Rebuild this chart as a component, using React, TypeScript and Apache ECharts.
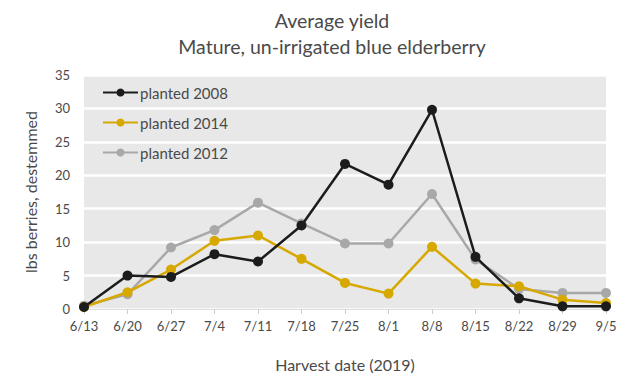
import React, { useEffect, useRef } from "react";
import * as echarts from "echarts";

const dates = ["6/13", "6/20", "6/27", "7/4", "7/11", "7/18", "7/25", "8/1", "8/8", "8/15", "8/22", "8/29", "9/5"];
const planted2008 = [0.3, 5.0, 4.8, 8.2, 7.1, 12.5, 21.7, 18.6, 29.8, 7.8, 1.6, 0.4, 0.4];
const planted2014 = [0.3, 2.5, 5.9, 10.2, 11.0, 7.5, 3.9, 2.3, 9.3, 3.8, 3.4, 1.4, 0.9];
const planted2012 = [0.5, 2.2, 9.2, 11.8, 15.9, 12.8, 9.8, 9.8, 17.2, 7.4, 3.0, 2.4, 2.4];
const yTicks = { min: 0, max: 35, interval: 5 };

const FONT = "Lato";
const TXT = "#4a4a4a";

export default function App() {
  const ref = useRef<HTMLDivElement>(null);
  useEffect(() => {
    if (!ref.current) return;
    const chart = echarts.init(ref.current, null, { renderer: "svg" });
    const mk = (name: string, data: number[], color: string, z: number) => ({
      name,
      type: "line",
      data,
      z,
      symbol: "circle",
      symbolSize: 10,
      lineStyle: { color, width: 2.5 },
      itemStyle: { color },
      color,
    });
    chart.setOption({
      animation: false,
      textStyle: { fontFamily: FONT },
      title: {
        text: "Average yield\nMature, un-irrigated blue elderberry",
        left: 327,
        top: 2,
        textAlign: "center",
        textStyle: { fontFamily: FONT, fontSize: 19.5, fontWeight: "normal", color: TXT, lineHeight: 26 },
      },
      legend: {
        orient: "vertical",
        left: 97,
        top: 80,
        itemGap: 15,
        itemWidth: 35,
        itemHeight: 10,
        textStyle: { fontFamily: FONT, fontSize: 15, color: TXT, padding: [0, 0, 0, -3] },
        data: ["planted 2008", "planted 2014", "planted 2012"],
      },
      grid: {
        left: 84,
        right: 34,
        top: 75,
        bottom: 83,
        show: true,
        backgroundColor: "#e8e8e8",
        borderWidth: 0,
      },
      xAxis: {
        type: "category",
        data: dates,
        boundaryGap: false,
        name: "Harvest date (2019)",
        nameLocation: "middle",
        nameGap: 47,
        nameTextStyle: { fontFamily: FONT, fontSize: 16, color: TXT },
        axisLine: { lineStyle: { color: "#dcdcdc", width: 1 } },
        axisTick: { show: true, length: 5, lineStyle: { color: "#cccccc" } },
        axisLabel: { fontFamily: FONT, fontSize: 13, color: TXT, margin: 10 },
      },
      yAxis: {
        type: "value",
        min: yTicks.min,
        max: yTicks.max,
        interval: yTicks.interval,
        name: "lbs berries, destemmed",
        nameLocation: "middle",
        nameGap: 46,
        nameTextStyle: { fontFamily: FONT, fontSize: 16, color: TXT },
        axisLine: { show: false },
        axisTick: { show: false },
        axisLabel: { fontFamily: FONT, fontSize: 13, color: TXT, margin: 14 },
        splitLine: { show: true, lineStyle: { color: "#ffffff", width: 2.5 } },
      },
      series: [
        mk("planted 2008", planted2008, "#1c1c1c", 4),
        mk("planted 2014", planted2014, "#d6a800", 3),
        mk("planted 2012", planted2012, "#a8a8a8", 2),
      ],
    });
    return () => chart.dispose();
  }, []);
  return <div ref={ref} style={{ width: 640, height: 392, position: "absolute", left: 0, top: 0 }} />;
}
